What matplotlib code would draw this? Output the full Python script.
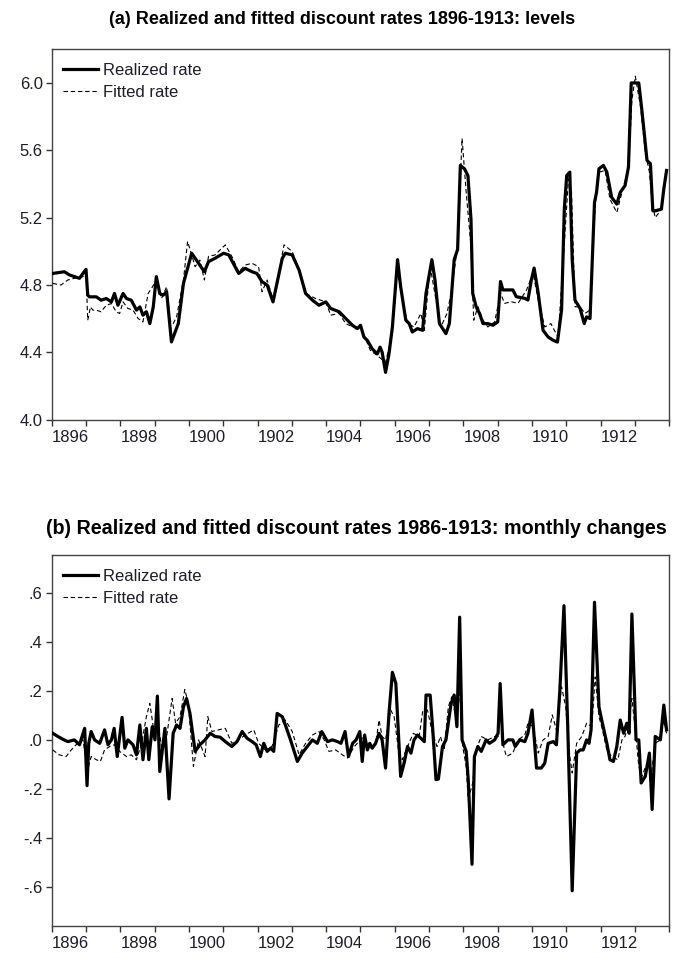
import matplotlib
matplotlib.use("Agg")
import matplotlib.pyplot as plt
from matplotlib.ticker import FixedLocator, FixedFormatter

plt.rcParams['font.family'] = ['Liberation Sans', 'DejaVu Sans']

# ---------------- Panel (a): levels ----------------
lev_real_t = [1896.03, 1896.37, 1896.52, 1896.81, 1896.91, 1897.00, 1897.05, 1897.10, 1897.30, 1897.44,
              1897.59, 1897.74, 1897.83, 1897.93, 1898.08, 1898.18, 1898.32, 1898.47, 1898.57, 1898.66,
              1898.76, 1898.86, 1898.96, 1899.05, 1899.15, 1899.25, 1899.35, 1899.49, 1899.69, 1899.84,
              1900.08, 1900.28, 1900.45, 1900.57, 1900.76, 1901.01, 1901.16, 1901.45, 1901.64, 1901.84,
              1901.98, 1902.13, 1902.28, 1902.45, 1902.72, 1902.81, 1903.01, 1903.21, 1903.40, 1903.60,
              1903.79, 1903.99, 1904.13, 1904.38, 1904.57, 1904.77, 1904.91, 1905.00, 1905.10, 1905.20,
              1905.34, 1905.49, 1905.57, 1905.63, 1905.73, 1905.83, 1905.93, 1906.08, 1906.17, 1906.32,
              1906.42, 1906.51, 1906.66, 1906.81, 1906.91, 1907.08, 1907.17, 1907.30, 1907.49, 1907.59,
              1907.73, 1907.83, 1907.91, 1908.03, 1908.13, 1908.22, 1908.27, 1908.37, 1908.47, 1908.57,
              1908.71, 1908.86, 1909.00, 1909.08, 1909.15, 1909.44, 1909.54, 1909.79, 1909.88, 1909.98,
              1910.06, 1910.18, 1910.32, 1910.47, 1910.62, 1910.74, 1910.86, 1910.94, 1911.01, 1911.10,
              1911.17, 1911.25, 1911.40, 1911.52, 1911.59, 1911.69, 1911.82, 1911.88, 1911.95, 1912.08,
              1912.18, 1912.32, 1912.47, 1912.57, 1912.71, 1912.81, 1912.89, 1913.11, 1913.20, 1913.35,
              1913.45, 1913.52, 1913.59, 1913.77, 1913.84, 1913.92]
lev_real_v = [4.868, 4.878, 4.859, 4.839, 4.868, 4.892, 4.739, 4.729, 4.729, 4.709,
              4.719, 4.699, 4.749, 4.679, 4.749, 4.719, 4.709, 4.650, 4.669, 4.620,
              4.640, 4.570, 4.669, 4.849, 4.749, 4.739, 4.759, 4.461, 4.570, 4.809,
              4.988, 4.928, 4.878, 4.938, 4.958, 4.988, 4.978, 4.868, 4.898, 4.878,
              4.868, 4.819, 4.799, 4.699, 4.958, 4.988, 4.978, 4.888, 4.749, 4.709,
              4.679, 4.699, 4.660, 4.640, 4.600, 4.559, 4.540, 4.560, 4.490, 4.470,
              4.420, 4.390, 4.430, 4.400, 4.280, 4.390, 4.550, 4.950, 4.790, 4.590,
              4.570, 4.520, 4.540, 4.530, 4.750, 4.950, 4.830, 4.570, 4.510, 4.570,
              4.950, 5.010, 5.510, 5.490, 5.450, 5.190, 4.750, 4.670, 4.630, 4.570,
              4.570, 4.560, 4.580, 4.820, 4.770, 4.770, 4.730, 4.720, 4.710, 4.830,
              4.900, 4.750, 4.530, 4.490, 4.470, 4.460, 4.650, 5.250, 5.450, 5.470,
              4.950, 4.710, 4.660, 4.570, 4.610, 4.600, 5.290, 5.350, 5.490, 5.510,
              5.470, 5.320, 5.280, 5.350, 5.390, 5.500, 6.000, 6.000, 5.840, 5.540,
              5.520, 5.240, 5.240, 5.250, 5.370, 5.480]

lev_fit_t = [1896.03, 1896.27, 1896.47, 1896.66, 1896.91, 1897.00, 1897.05, 1897.13, 1897.20, 1897.30,
             1897.44, 1897.59, 1897.74, 1897.88, 1897.98, 1898.08, 1898.22, 1898.37, 1898.52, 1898.66,
             1898.81, 1898.91, 1899.05, 1899.20, 1899.35, 1899.45, 1899.54, 1899.64, 1899.84, 1899.96,
             1900.08, 1900.18, 1900.32, 1900.45, 1900.57, 1900.76, 1901.06, 1901.25, 1901.45, 1901.64,
             1901.84, 1902.03, 1902.13, 1902.28, 1902.47, 1902.77, 1903.01, 1903.21, 1903.40, 1903.69,
             1903.99, 1904.13, 1904.38, 1904.57, 1904.77, 1905.00, 1905.29, 1905.49, 1905.73, 1905.93,
             1906.06, 1906.17, 1906.37, 1906.56, 1906.76, 1906.86, 1907.03, 1907.20, 1907.34, 1907.52,
             1907.64, 1907.83, 1907.96, 1908.08, 1908.22, 1908.30, 1908.42, 1908.57, 1908.71, 1908.91,
             1909.08, 1909.20, 1909.39, 1909.59, 1909.84, 1910.03, 1910.18, 1910.37, 1910.55, 1910.65,
             1910.76, 1910.91, 1911.06, 1911.15, 1911.25, 1911.40, 1911.54, 1911.69, 1911.84, 1911.95,
             1912.13, 1912.27, 1912.47, 1912.62, 1912.81, 1912.91, 1913.01, 1913.16, 1913.30, 1913.42,
             1913.50, 1913.59, 1913.74, 1913.84, 1913.92]
lev_fit_v = [4.809, 4.799, 4.829, 4.839, 4.849, 4.878, 4.590, 4.669, 4.650, 4.650,
             4.640, 4.679, 4.689, 4.640, 4.630, 4.699, 4.660, 4.650, 4.600, 4.580,
             4.749, 4.779, 4.829, 4.719, 4.789, 4.590, 4.570, 4.610, 4.829, 5.058,
             4.978, 4.908, 4.948, 4.829, 4.969, 4.978, 5.038, 4.969, 4.878, 4.918,
             4.928, 4.908, 4.759, 4.829, 4.699, 5.038, 4.998, 4.888, 4.749, 4.719,
             4.699, 4.620, 4.630, 4.570, 4.550, 4.550, 4.410, 4.380, 4.340, 4.510,
             4.910, 4.770, 4.570, 4.550, 4.630, 4.530, 4.910, 4.710, 4.550, 4.630,
             4.750, 5.030, 5.670, 5.350, 5.030, 4.590, 4.670, 4.590, 4.550, 4.580,
             4.750, 4.690, 4.700, 4.690, 4.770, 4.870, 4.710, 4.550, 4.570, 4.530,
             4.490, 4.950, 5.430, 5.350, 4.670, 4.670, 4.630, 4.650, 5.270, 5.470,
             5.480, 5.310, 5.230, 5.350, 5.490, 5.900, 6.040, 5.860, 5.590, 5.470,
             5.290, 5.200, 5.240, 5.370, 5.490]

# ---------------- Panel (b): monthly changes ----------------
chg_real_t = [1896.03, 1896.18, 1896.32, 1896.47, 1896.66, 1896.81, 1896.96, 1897.03, 1897.08, 1897.15,
              1897.25, 1897.40, 1897.54, 1897.64, 1897.74, 1897.82, 1897.91, 1898.05, 1898.13, 1898.22,
              1898.37, 1898.47, 1898.57, 1898.66, 1898.76, 1898.83, 1898.93, 1899.01, 1899.08, 1899.15,
              1899.30, 1899.42, 1899.54, 1899.64, 1899.74, 1899.84, 1899.93, 1900.03, 1900.18, 1900.32,
              1900.47, 1900.62, 1900.76, 1900.91, 1901.06, 1901.25, 1901.40, 1901.55, 1901.69, 1901.84,
              1901.96, 1902.08, 1902.18, 1902.28, 1902.38, 1902.47, 1902.57, 1902.72, 1902.81, 1902.96,
              1903.16, 1903.30, 1903.45, 1903.60, 1903.74, 1903.87, 1904.04, 1904.18, 1904.33, 1904.43,
              1904.55, 1904.65, 1904.77, 1904.87, 1904.98, 1905.05, 1905.12, 1905.20, 1905.27, 1905.34,
              1905.44, 1905.54, 1905.63, 1905.73, 1905.83, 1905.93, 1906.03, 1906.17, 1906.27, 1906.37,
              1906.47, 1906.56, 1906.66, 1906.86, 1906.91, 1907.03, 1907.10, 1907.20, 1907.27, 1907.39,
              1907.49, 1907.64, 1907.73, 1907.81, 1907.89, 1907.96, 1908.08, 1908.14, 1908.25, 1908.32,
              1908.42, 1908.52, 1908.66, 1908.76, 1908.91, 1909.01, 1909.07, 1909.15, 1909.30, 1909.44,
              1909.51, 1909.64, 1909.79, 1909.88, 1910.00, 1910.13, 1910.27, 1910.37, 1910.47, 1910.62,
              1910.71, 1910.81, 1910.93, 1911.04, 1911.17, 1911.30, 1911.40, 1911.49, 1911.59, 1911.66,
              1911.72, 1911.82, 1911.95, 1912.03, 1912.18, 1912.27, 1912.37, 1912.47, 1912.57, 1912.67,
              1912.76, 1912.83, 1912.91, 1913.03, 1913.11, 1913.18, 1913.30, 1913.42, 1913.50, 1913.59,
              1913.74, 1913.84, 1913.92]
chg_real_v = [0.027, 0.014, 0.003, -0.007, 0.000, -0.020, 0.047, -0.187, -0.014, 0.034,
              0.000, -0.014, 0.041, -0.020, 0.000, 0.047, -0.068, 0.092, -0.034, 0.000,
              -0.020, -0.061, 0.061, -0.081, 0.047, -0.081, 0.054, 0.000, 0.179, -0.129,
              0.047, -0.241, 0.027, 0.061, 0.047, 0.135, 0.169, 0.108, -0.047, -0.020,
              0.000, 0.027, 0.014, 0.011, -0.007, -0.027, -0.007, 0.034, 0.007, -0.007,
              -0.020, -0.068, -0.014, -0.047, -0.034, -0.047, 0.108, 0.095, 0.061, 0.000,
              -0.088, -0.054, -0.027, 0.000, -0.014, 0.034, -0.007, 0.000, -0.007, -0.014,
              0.034, -0.068, -0.014, 0.000, 0.034, -0.088, 0.020, -0.041, -0.014, -0.034,
              -0.014, 0.027, 0.000, -0.115, 0.108, 0.276, 0.230, -0.149, -0.095, -0.027,
              -0.054, 0.000, 0.020, -0.007, 0.183, 0.183, 0.054, -0.162, -0.160, -0.027,
              0.000, 0.149, 0.183, 0.054, 0.501, 0.000, -0.047, -0.162, -0.508, -0.068,
              -0.027, -0.047, 0.000, -0.014, 0.000, 0.027, 0.230, -0.020, 0.000, 0.000,
              -0.027, 0.000, -0.007, 0.027, 0.122, -0.115, -0.115, -0.095, -0.014, -0.007,
              -0.020, 0.203, 0.548, 0.054, -0.616, -0.054, -0.041, -0.041, 0.000, -0.014,
              0.041, 0.562, 0.135, 0.081, -0.014, -0.081, -0.088, -0.027, 0.081, 0.027,
              0.068, 0.027, 0.514, 0.000, 0.000, -0.176, -0.149, -0.054, -0.284, 0.014,
              0.000, 0.142, 0.041]

chg_fit_t = [1896.03, 1896.22, 1896.42, 1896.57, 1896.71, 1896.91, 1897.05, 1897.15, 1897.30, 1897.42,
             1897.54, 1897.69, 1897.83, 1897.98, 1898.18, 1898.32, 1898.47, 1898.62, 1898.76, 1898.86,
             1898.96, 1899.08, 1899.20, 1899.35, 1899.51, 1899.61, 1899.74, 1899.88, 1899.98, 1900.13,
             1900.28, 1900.47, 1900.55, 1900.67, 1900.86, 1901.06, 1901.25, 1901.45, 1901.64, 1901.89,
             1902.03, 1902.23, 1902.42, 1902.62, 1902.81, 1903.01, 1903.21, 1903.40, 1903.60, 1903.79,
             1903.94, 1904.08, 1904.28, 1904.47, 1904.62, 1904.82, 1905.00, 1905.10, 1905.24, 1905.44,
             1905.54, 1905.63, 1905.73, 1905.88, 1905.98, 1906.12, 1906.22, 1906.37, 1906.54, 1906.71,
             1906.81, 1906.95, 1907.10, 1907.23, 1907.33, 1907.44, 1907.56, 1907.66, 1907.79, 1907.91,
             1907.98, 1908.08, 1908.14, 1908.27, 1908.37, 1908.52, 1908.71, 1908.91, 1909.10, 1909.25,
             1909.44, 1909.59, 1909.79, 1909.88, 1910.03, 1910.18, 1910.32, 1910.47, 1910.59, 1910.71,
             1910.86, 1910.98, 1911.10, 1911.17, 1911.30, 1911.45, 1911.59, 1911.74, 1911.84, 1911.95,
             1912.03, 1912.18, 1912.32, 1912.50, 1912.62, 1912.71, 1912.81, 1912.91, 1913.03, 1913.11,
             1913.20, 1913.35, 1913.48, 1913.59, 1913.74, 1913.84, 1913.92]
chg_fit_v = [-0.041, -0.061, -0.068, -0.041, -0.020, 0.000, -0.122, -0.068, -0.081, -0.088,
             -0.041, -0.027, -0.020, -0.047, -0.068, -0.061, -0.081, -0.014, 0.095, 0.149,
             0.054, 0.081, -0.027, 0.014, 0.169, 0.068, 0.095, 0.206, 0.149, -0.108,
             0.000, -0.068, 0.095, 0.034, 0.041, 0.047, -0.014, 0.000, 0.020, 0.041,
             -0.014, -0.041, -0.027, 0.061, 0.081, 0.034, -0.061, -0.014, 0.020, 0.034,
             0.000, -0.047, -0.041, -0.061, -0.074, -0.027, 0.000, 0.014, -0.027, -0.020,
             0.081, 0.014, 0.000, 0.122, 0.095, -0.054, -0.081, -0.027, 0.027, 0.014,
             0.115, 0.122, 0.027, -0.027, 0.014, -0.041, 0.135, 0.176, 0.081, 0.203,
             -0.027, -0.108, -0.244, -0.176, -0.041, 0.014, 0.000, 0.014, 0.014, -0.068,
             -0.054, 0.000, 0.020, 0.068, 0.054, -0.054, 0.000, 0.014, 0.102, 0.041,
             0.217, 0.135, -0.068, -0.135, -0.014, 0.014, 0.068, 0.054, 0.257, 0.095,
             0.054, -0.041, -0.068, -0.081, 0.000, 0.014, 0.068, 0.169, 0.014, -0.108,
             -0.149, -0.095, -0.135, -0.014, 0.000, 0.081, 0.027]

year_ticks = list(range(1896, 1915))
year_labels = [str(y) if (y % 2 == 0 and y < 1914) else "" for y in year_ticks]

lev_ticks = [4.0, 4.4, 4.8, 5.2, 5.6, 6.0]
lev_labels = ["4.0", "4.4", "4.8", "5.2", "5.6", "6.0"]
chg_ticks = [-0.6, -0.4, -0.2, 0.0, 0.2, 0.4, 0.6]
chg_labels = ["-.6", "-.4", "-.2", ".0", ".2", ".4", ".6"]

title_a = "(a) Realized and fitted discount rates 1896-1913: levels"
title_b = "(b) Realized and fitted discount rates 1986-1913: monthly changes"
series_names = ["Realized rate", "Fitted rate"]

W, H = 673, 958
fig = plt.figure(figsize=(W / 100, H / 100), dpi=100)
fig.patch.set_facecolor("white")

def axes_px(l, t, r, b):
    return [l / W, 1 - b / H, (r - l) / W, (b - t) / H]

A_BOX = (51.7, 49.3, 669.3, 419.5)
B_BOX = (51.7, 555.0, 669.3, 926.0)
ax_a = fig.add_axes(axes_px(*A_BOX))
ax_b = fig.add_axes(axes_px(*B_BOX))

txt_color = "#1c1c2c"
tick_fs = 12
leg_fs = 12

def style(ax, yt, yl, ylim):
    ax.set_xlim(1896, 1914)
    ax.set_ylim(*ylim)
    ax.xaxis.set_major_locator(FixedLocator(year_ticks))
    ax.xaxis.set_major_formatter(FixedFormatter(year_labels))
    ax.yaxis.set_major_locator(FixedLocator(yt))
    ax.yaxis.set_major_formatter(FixedFormatter(yl))
    for lab in ax.get_xticklabels():
        lab.set_horizontalalignment("left")
    ax.tick_params(axis="both", direction="out", length=4.5, width=1.0,
                   color="#333333", labelsize=tick_fs, labelcolor=txt_color)
    ax.tick_params(axis="x", pad=3)
    ax.tick_params(axis="y", pad=2)
    for s in ax.spines.values():
        s.set_color("#444444")
        s.set_linewidth(1.0)

for ax, box, (rt, rv, ft, fv), yt, yl, ylim in [
        (ax_a, A_BOX, (lev_real_t, lev_real_v, lev_fit_t, lev_fit_v), lev_ticks, lev_labels, (4.0, 6.2)),
        (ax_b, B_BOX, (chg_real_t, chg_real_v, chg_fit_t, chg_fit_v), chg_ticks, chg_labels, (-0.76, 0.755))]:
    ax.plot(rt, rv, color="black", lw=2.3, solid_joinstyle="round", label=series_names[0], zorder=3)
    ax.plot(ft, fv, color="black", lw=0.8, linestyle=(0, (4, 2.5)), label=series_names[1], zorder=4)
    style(ax, yt, yl, ylim)
    bw = box[2] - box[0]
    bh = box[3] - box[1]
    leg = ax.legend(loc="upper left", bbox_to_anchor=((63 - box[0]) / bw, 1 - 14.0 / bh),
                    frameon=False, fontsize=leg_fs, handlelength=2.1, handletextpad=0.3,
                    labelspacing=0.4, borderaxespad=0.0, borderpad=0.0)
    for t in leg.get_texts():
        t.set_color(txt_color)

fig.text(342 / W, 1 - 19 / H, title_a, ha="center", va="center",
         fontsize=13, fontweight="bold", color="black")
fig.text(356.5 / W, 1 - 529 / H, title_b, ha="center", va="center",
         fontsize=14.2, fontweight="bold", color="black")

fig.savefig("out.png", dpi=100, facecolor="white")
